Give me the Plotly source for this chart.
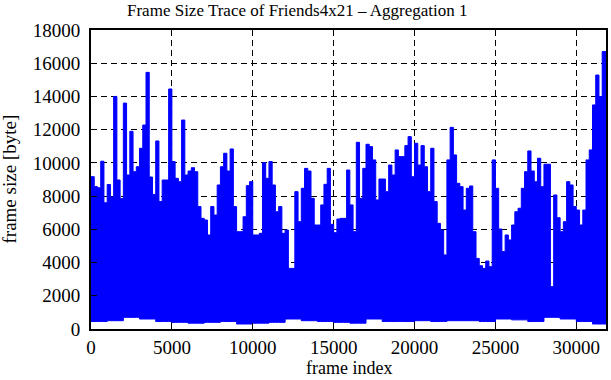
import numpy as np
import plotly.graph_objects as go

# ---- data (per 200-frame bin) ----
frame_count = 31835
bin_frames = 200
peak_bytes = [
    9170, 8570, 8500, 10100, 7600, 8700, 7950, 14000, 8970, 7850,
    13600, 9270, 11900, 9470, 9770, 10880, 12280, 15450, 9150, 8100,
    11320, 7670, 8970, 8970, 14450, 10080, 9070, 8870, 12580, 9270,
    9510, 9710, 9470, 7370, 6660, 6560, 5660, 7370, 6860, 8670,
    9770, 10580, 9510, 10840, 7370, 5860, 5860, 6760, 8630, 8870,
    5660, 5660, 5760, 10010, 9070, 10080, 8670, 7060, 7370, 5760,
    5960, 3650, 3650, 8270, 6460, 8470, 9670, 9510, 7870, 6260,
    6260, 7470, 8710, 9670, 6300, 5800, 6620, 6660, 6660, 9570,
    7470, 5860, 11240, 7870, 9670, 11120, 10980, 10180, 7770, 9030,
    9030, 8270, 9870, 9270, 10780, 10380, 10380, 11040, 11580, 9170,
    11180, 9870, 11040, 9770, 8270, 10880, 7670, 6360, 5960, 4460,
    10180, 12140, 10480, 8770, 8570, 7160, 8470, 8610, 5860, 4250,
    3810, 3650, 4090, 3750, 10180, 8470, 6020, 4660, 5660, 5360,
    6260, 7060, 7270, 8470, 9470, 10720, 9510, 8870, 10280, 8570,
    9920, 9920, 2550, 8070, 6700, 5860, 6460, 8870, 8670, 7370,
    7160, 6260, 7160, 10180, 10780, 13490, 15290, 13990, 16700,
]
# lower envelope per 1000 frames
floor_bytes_1k = [
    450, 500, 700, 600, 450, 400, 350, 400, 450, 300,
    350, 400, 600, 500, 450, 400, 350, 600, 450, 450,
    500, 450, 500, 500, 450, 600, 550, 450, 700, 600,
    450, 300,
]
x_tickvals = [0, 5000, 10000, 15000, 20000, 25000, 30000]
y_tickvals = [0, 2000, 4000, 6000, 8000, 10000, 12000, 14000, 16000, 18000]

n = len(peak_bytes)
edges = np.append(np.arange(n) * bin_frames, frame_count)
floors = np.repeat(floor_bytes_1k, 1000 // bin_frames)[:n]
peaks = np.array(peak_bytes)
floors_step = np.append(floors, floors[-1])
peaks_step = np.append(peaks, peaks[-1])

FONT = "Liberation Serif"
BLUE = "#0000ff"

fig = go.Figure()
fig.add_trace(go.Scatter(
    x=edges, y=floors_step, mode="lines", line=dict(color=BLUE, width=1, shape="hv"),
    showlegend=False, hoverinfo="skip",
))
fig.add_trace(go.Scatter(
    x=edges, y=peaks_step, mode="lines", line=dict(color=BLUE, width=1, shape="hv"),
    fill="tonexty", fillcolor=BLUE, showlegend=False,
))

axis_common = dict(
    showline=True, linecolor="black", linewidth=2, mirror=True,
    ticks="inside", ticklen=6, tickcolor="black", tickwidth=1,
    showgrid=True, gridcolor="black", gridwidth=1, griddash="6px,4px",
    zeroline=False,
    tickfont=dict(family=FONT, size=19, color="black"),
)

fig.update_layout(
    width=611, height=380,
    margin=dict(l=91, r=3, t=30, b=51),
    paper_bgcolor="white", plot_bgcolor="white",
    xaxis=dict(range=[0, frame_count], tickvals=x_tickvals,
               ticktext=[str(v) for v in x_tickvals], **axis_common),
    yaxis=dict(range=[0, 18000], tickvals=y_tickvals,
               ticktext=[str(v) for v in y_tickvals], **axis_common),
    annotations=[
        dict(text="Frame Size Trace of Friends4x21 \u2013 Aggregation 1",
             xref="paper", yref="paper", x=0.40, y=1.0, yshift=20,
             xanchor="center", yanchor="middle", showarrow=False,
             font=dict(family=FONT, size=17, color="black")),
        dict(text="frame index", xref="paper", yref="paper", x=0.5, y=0,
             yshift=-39, xanchor="center", yanchor="middle", showarrow=False,
             font=dict(family=FONT, size=18, color="black")),
        dict(text="frame size [byte]", xref="paper", yref="paper", x=0, y=0.5,
             xshift=-82, xanchor="center", yanchor="middle", showarrow=False,
             textangle=-90,
             font=dict(family=FONT, size=19, color="black")),
    ],
)
fig.update_xaxes(ticklabelstandoff=0)
fig.update_yaxes(ticklabelstandoff=5)

fig.write_html("out.html")
